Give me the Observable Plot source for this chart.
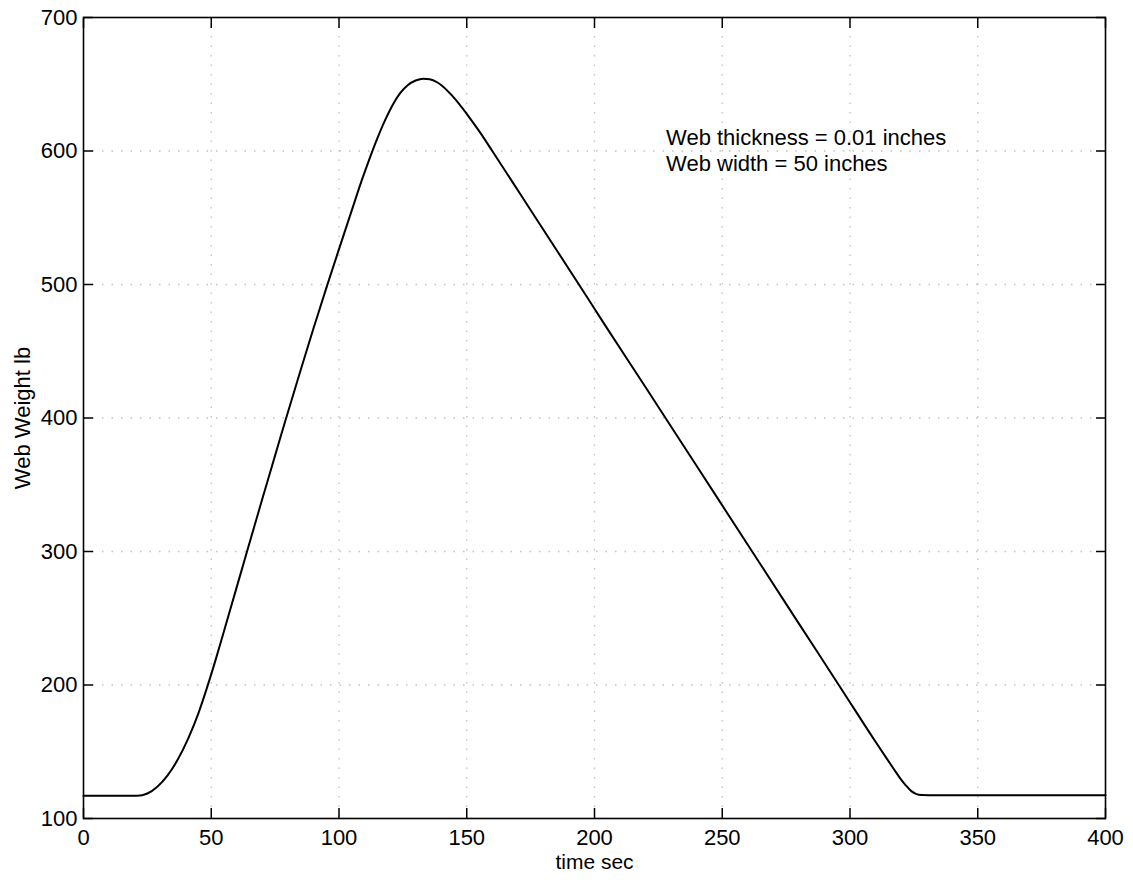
<!DOCTYPE html>
<html>
<head>
<meta charset="utf-8">
<script src="https://cdn.jsdelivr.net/npm/d3@7"></script>
<script src="https://cdn.jsdelivr.net/npm/@observablehq/plot@0.6"></script>
<style>
  html, body { margin: 0; padding: 0; background: #fff; }
  #chart svg { display: block; }
</style>
</head>
<body>
<div id="chart"></div>
<script>
// Time (sec) and web weight (lb)
const timeSec = [0, 10, 21, 25, 29, 33, 37, 41, 45, 48, 51.5, 55, 60, 64, 70, 75, 79, 85, 90, 95.4, 100, 105, 109, 112, 115, 118, 121, 124, 127, 130, 133, 135.5, 138.4, 141, 144, 147, 150.2, 155, 160, 171, 180, 193.9, 204.3, 220, 240, 261.7, 274.1, 280, 296.3, 310, 314, 317, 319.5, 322, 324, 326, 328, 331, 350, 375, 400];
const weightLb = [117, 117, 117, 118.7, 124, 132.5, 144.5, 160, 179, 196, 217.5, 240.5, 273.5, 300, 339.5, 372, 398, 436, 467, 499.5, 526.5, 555.5, 578.5, 594.5, 609.5, 623, 634.5, 643.5, 649.5, 652.8, 654.2, 653.8, 651.5, 647.8, 642, 635.3, 627.3, 614.5, 600, 567.6, 541, 500, 469, 423, 364, 300, 263.4, 246, 198, 157.5, 146, 137.5, 130.5, 124.5, 120.5, 118.3, 117.6, 117.5, 117.5, 117.5, 117.5];

const xTicks = [0, 50, 100, 150, 200, 250, 300, 350, 400];
const yTicks = [100, 200, 300, 400, 500, 600, 700];

const xLabel = ["time sec"];
const yLabel = ["Web Weight lb"];
const noteLines = ["Web thickness = 0.01 inches\nWeb width = 50 inches"];
const noteX = [228];
const noteY = [601];

const series = timeSec.map((t, i) => ({t, w: weightLb[i]}));
const notes = noteLines.map((s, i) => ({s, x: noteX[i], y: noteY[i]}));

const font = "'Liberation Sans', Arial, Helvetica, sans-serif";

const chart = Plot.plot({
  width: 1133,
  height: 883,
  marginLeft: 83,
  marginRight: 28,
  marginTop: 17,
  marginBottom: 65,
  style: {fontFamily: font, fontSize: "22px", background: "#fff", color: "#000"},
  x: {domain: [0, 400], ticks: xTicks},
  y: {domain: [100, 700], ticks: yTicks},
  marks: [
    // dotted grid
    Plot.ruleX(xTicks.slice(1, -1), {x: d => d, stroke: "#999", strokeOpacity: 0.6, strokeDasharray: "1.5,8", strokeWidth: 1.3}),
    Plot.ruleY(yTicks.slice(1, -1), {y: d => d, stroke: "#999", strokeOpacity: 0.6, strokeDasharray: "1.5,8", strokeWidth: 1.3}),
    // inward ticks on all sides
    Plot.axisX(xTicks, {anchor: "bottom", tickSize: -10, fill: "none", label: null, strokeWidth: 1.5}),
    Plot.axisX(xTicks, {anchor: "top", tickSize: -10, fill: "none", label: null, strokeWidth: 1.5}),
    Plot.axisY(yTicks, {anchor: "left", tickSize: -10, fill: "none", label: null, strokeWidth: 1.5}),
    Plot.axisY(yTicks, {anchor: "right", tickSize: -10, fill: "none", label: null, strokeWidth: 1.5}),
    // tick labels
    Plot.axisX(xTicks, {anchor: "bottom", tickSize: 0, tickPadding: 11, label: null, fill: "#000", fontSize: 22}),
    Plot.axisY(yTicks, {anchor: "left", tickSize: 0, tickPadding: 6, label: null, fill: "#000", fontSize: 22}),
    Plot.frame({stroke: "#000", strokeWidth: 1.6}),
    // curve
    Plot.line(series, {x: "t", y: "w", stroke: "#000", strokeWidth: 2, curve: "monotone-x"}),
    // annotation
    Plot.text(notes, {x: "x", y: "y", text: "s", textAnchor: "start", lineAnchor: "middle", lineHeight: 1.17, fontSize: 22, fill: "#000"}),
    // axis titles
    Plot.text(xLabel, {frameAnchor: "bottom", textAnchor: "middle", lineAnchor: "middle", dy: 44, text: d => d, fontSize: 21, fill: "#000"}),
    Plot.text(yLabel, {frameAnchor: "left", textAnchor: "middle", lineAnchor: "middle", dx: -61, rotate: -90, text: d => d, fontSize: 22, fill: "#000"})
  ]
});
document.getElementById("chart").appendChild(chart);
</script>
</body>
</html>
